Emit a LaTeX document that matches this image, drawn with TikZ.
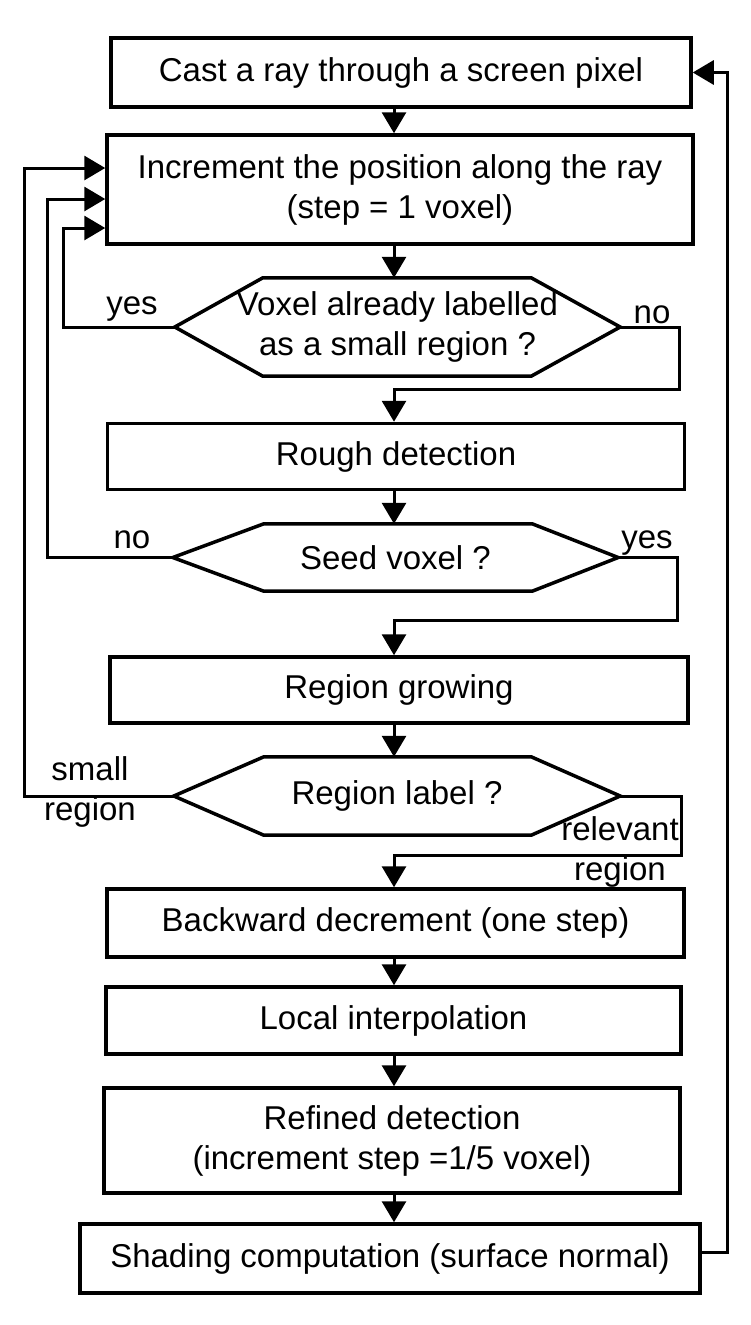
\documentclass[tikz,border=0pt]{standalone}
\usepackage{fontspec}
\setmainfont{Liberation Sans}
\usetikzlibrary{arrows.meta,calc}
\tikzset{
  txt/.style={font=\fontsize{33}{40}\selectfont},
  box/.style={txt, draw, line width=3.5pt, inner sep=0pt, align=center},
  hexnode/.style={txt, inner sep=0pt, align=center},
  hexline/.style={line width=3.5pt, line join=miter},
  arr/.style={line width=3pt, -{Triangle[length=21pt,width=24pt]}},
  lbl/.style={txt, inner sep=0pt, align=center},
}
\newcommand\hexpath[3]{\draw[hexline] (#1.west) -- ([xshift=#2]#1.north west) -- ([xshift=-#3]#1.north east) -- (#1.east) -- ([xshift=-#3]#1.south east) -- ([xshift=#2]#1.south west) -- cycle;}
\begin{document}
\begin{tikzpicture}[x=1pt,y=-1pt]
\useasboundingbox (0,0) rectangle (750,1325);
% boxes
\node[box, minimum width=580pt, minimum height=69pt] (b1) at (401,72.5) {Cast a ray through a screen pixel};
\node[box, minimum width=586pt, minimum height=109pt] (b2) at (400,189.5) {Increment the position along the ray\\(step = 1 voxel)};
\node[hexnode, minimum width=445pt, minimum height=98pt] (h1) at (397.5,327) {Voxel already labelled\\as a small region ?};
\hexpath{h1}{88pt}{89pt}
\node[box, minimum width=577pt, minimum height=66pt] (rd) at (396,456.5) {Rough detection};
\node[hexnode, minimum width=445pt, minimum height=67pt] (h2) at (395.5,557.5) {Seed voxel ?};
\hexpath{h2}{91pt}{86pt}
\node[box, minimum width=578pt, minimum height=66pt] (rg) at (399,690) {Region growing};
\node[hexnode, minimum width=446pt, minimum height=78pt] (h3) at (397,796) {Region label ?};
\hexpath{h3}{90pt}{89pt}
\node[box, minimum width=577pt, minimum height=68pt] (bw) at (395.5,923) {Backward decrement (one step)};
\node[box, minimum width=575pt, minimum height=67pt] (li) at (393.5,1020.5) {Local interpolation};
\node[box, minimum width=576pt, minimum height=105pt] (rf) at (392,1140.5) {Refined detection\\(increment step =1/5 voxel)};
\node[box, minimum width=620pt, minimum height=69pt] (sh) at (390,1258.5) {Shading computation (surface normal)};
% helper columns
\coordinate (col) at (394,0);
\coordinate (L1) at (24,0);
\coordinate (L2) at (47,0);
\coordinate (L3) at (63,0);
\coordinate (R) at (727,0);
% straight arrows
\draw[arr] (b1.south -| col) -- (b2.north -| col);
\draw[arr] (b2.south -| col) -- (h1.north -| col);
\draw[arr] (rd.south -| col) -- (h2.north -| col);
\draw[arr] (rg.south -| col) -- (h3.north -| col);
\draw[arr] (bw.south -| col) -- (li.north -| col);
\draw[arr] (li.south -| col) -- (rf.north -| col);
\draw[arr] (rf.south -| col) -- (sh.north -| col);
% right branches
\draw[arr] (h1.east) -- ++(59,0) -- ++(0,62) -| (rd.north -| col);
\draw[arr] (h2.east) -- ++(59,0) -- ++(0,63) -| (rg.north -| col);
\draw[arr] (h3.east) -- ++(61,0) -- ++(0,59) -| (bw.north -| col);
% left loops
\draw[arr] (h3.west) -- (h3.west -| L1) |- ($(b2.west)+(0,-21.5)$);
\draw[arr] (h2.west) -- (h2.west -| L2) |- ($(b2.west)+(0,9.5)$);
\draw[arr] (h1.west) -- (h1.west -| L3) |- ($(b2.west)+(0,38.5)$);
% return loop
\draw[arr] ($(sh.east)+(0,-6.5)$) -| (R |- b1.east) -- (b1.east);
% labels
\node[lbl] (ly1) at (132,309) {yes};
\node[lbl] (ln1) at (652,315) {no};
\node[lbl] (ln2) at (132,540) {no};
\node[lbl] (ly2) at (647,543) {yes};
\node[lbl] (ls) at (90,792) {small\\region};
\node[lbl] (lr) at (620,852) {relevant\\region};
\end{tikzpicture}
\end{document}
